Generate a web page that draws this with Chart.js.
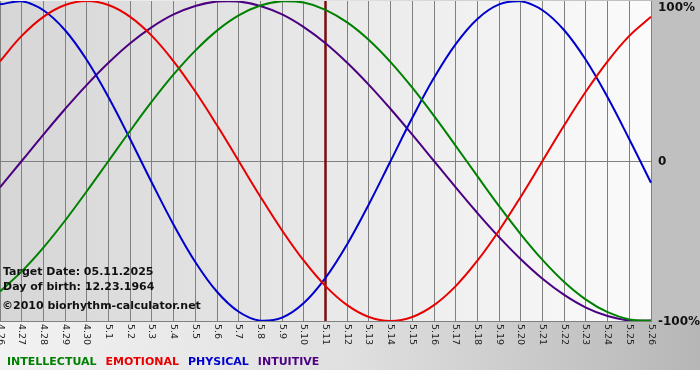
<!DOCTYPE html>
<html>
<head>
<meta charset="utf-8">
<script src="https://cdn.jsdelivr.net/npm/chart.js@4"></script>
<style>
  body { margin: 0; background: #fff; }
  #wrap { width: 700px; height: 380px; }
</style>
</head>
<body>
<div id="wrap"><canvas id="bioPlot" width="700" height="380"></canvas></div>
<script>
// Days shown on the chart
const dates = ['4.26', '4.27', '4.28', '4.29', '4.30', '5.1', '5.2', '5.3', '5.4', '5.5', '5.6', '5.7', '5.8', '5.9', '5.10',
  '5.11', '5.12', '5.13', '5.14', '5.15', '5.16', '5.17', '5.18', '5.19', '5.20', '5.21', '5.22', '5.23', '5.24', '5.25', '5.26'];

// Cycle values (-1 .. 1)
const intellectual = [-0.815, -0.690, -0.541, -0.372, -0.189, 0.000, 0.189, 0.372, 0.541, 0.690, 0.815, 0.910, 0.972, 0.999,
  0.990, 0.945, 0.866, 0.756, 0.618, 0.458, 0.282, 0.095, -0.095, -0.282, -0.458, -0.618, -0.756, -0.866, -0.945, -0.990, -0.999];
const emotional = [0.623, 0.782, 0.901, 0.975, 1.000, 0.975, 0.901, 0.782, 0.623, 0.434, 0.223, 0.000, -0.223, -0.434,
  -0.623, -0.782, -0.901, -0.975, -1.000, -0.975, -0.901, -0.782, -0.623, -0.434, -0.223, 0.000, 0.223, 0.434, 0.623, 0.782, 0.901];
const physical = [0.979, 0.998, 0.942, 0.817, 0.631, 0.398, 0.136, -0.136, -0.398, -0.631, -0.817, -0.942, -0.998, -0.979,
  -0.888, -0.731, -0.520, -0.270, 0.000, 0.270, 0.520, 0.731, 0.888, 0.979, 0.998, 0.942, 0.817, 0.631, 0.398, 0.136, -0.136];
const intuitive = [-0.165, 0.000, 0.165, 0.325, 0.476, 0.614, 0.736, 0.837, 0.916, 0.969, 0.997, 0.997, 0.969, 0.916,
  0.837, 0.736, 0.614, 0.476, 0.325, 0.165, 0.000, -0.165, -0.325, -0.476, -0.614, -0.736, -0.837, -0.916, -0.969, -0.997, -0.997];

const seriesNames = ['INTELLECTUAL', 'EMOTIONAL', 'PHYSICAL', 'INTUITIVE'];
const seriesColors = ['#008000', '#e80000', '#0000cc', '#4b0082'];

const yTicks = [1, 0, -1];
const yTickLabels = ['100%', '0', '-100%'];

const targetDay = '5.11';
const infoLines = ['Target Date: 05.11.2025', 'Day of birth: 12.23.1964', '\u00a92010 biorhythm-calculator.net'];

const bioPlugin = {
    id: 'bio',
    beforeDraw(chart) {
        const { ctx, chartArea: a, width } = chart;
        ctx.save();
        // frame
        let g = ctx.createLinearGradient(0, 0, width, 0);
        g.addColorStop(0, '#f2f2f2');
        g.addColorStop(0.5, '#e0e0e0');
        g.addColorStop(1, '#b6b6b6');
        ctx.fillStyle = g;
        ctx.fillRect(0, 0, width, 370);
        ctx.fillStyle = '#c0c0c0';
        ctx.fillRect(a.right, 0, width - a.right, a.bottom);
        // plot area
        let g2 = ctx.createLinearGradient(a.left, 0, a.right, 0);
        g2.addColorStop(0, '#d6d6d6');
        g2.addColorStop(1, '#fbfbfb');
        ctx.fillStyle = g2;
        ctx.fillRect(a.left, a.top, a.right - a.left, a.bottom - a.top);
        ctx.restore();
    },
    beforeDatasetsDraw(chart) {
        const { ctx, chartArea: a } = chart;
        const x = chart.scales.x.getPixelForValue(dates.indexOf(targetDay));
        ctx.save();
        ctx.strokeStyle = '#7a0c0c';
        ctx.lineWidth = 2.5;
        ctx.beginPath();
        ctx.moveTo(x, a.top);
        ctx.lineTo(x, a.bottom);
        ctx.stroke();
        ctx.restore();
    },
    afterDraw(chart) {
        const { ctx, chartArea: a } = chart;
        const xs = chart.scales.x, ys = chart.scales.y;
        ctx.save();
        // date labels, rotated clockwise
        ctx.fillStyle = '#222';
        ctx.font = '9.5px "DejaVu Sans"';
        ctx.textAlign = 'left';
        ctx.textBaseline = 'middle';
        dates.forEach((d, i) => {
            ctx.save();
            ctx.translate(xs.getPixelForValue(i), a.bottom + 3);
            ctx.rotate(Math.PI / 2);
            ctx.fillText(d, 0, 0);
            ctx.restore();
        });
        // percent labels on the right
        ctx.fillStyle = '#111';
        ctx.font = 'bold 12px "DejaVu Sans"';
        yTicks.forEach((v, i) => {
            ctx.textBaseline = v === 1 ? 'top' : 'middle';
            ctx.fillText(yTickLabels[i], a.right + 7, ys.getPixelForValue(v) + 1);
        });
        // info text
        ctx.font = 'bold 11px "DejaVu Sans"';
        ctx.textBaseline = 'middle';
        ctx.fillStyle = '#111';
        ctx.fillText(infoLines[0], 3, 272);
        ctx.fillText(infoLines[1], 3, 287);
        ctx.fillText(infoLines[2], 2, 306);
        // legend
        let lx = 7;
        seriesNames.forEach((n, i) => {
            ctx.fillStyle = seriesColors[i];
            ctx.fillText(n, lx, 362);
            lx += ctx.measureText(n).width + 9;
        });
        ctx.restore();
    }
};

new Chart(document.getElementById('bioPlot'), {
    type: 'line',
    data: {
        labels: dates,
        datasets: [intellectual, emotional, physical, intuitive].map((vals, i) => ({
            label: seriesNames[i],
            data: vals,
            borderColor: seriesColors[i],
            borderWidth: 2,
            pointRadius: 0,
            tension: 0.4,
            fill: false
        }))
    },
    options: {
        responsive: false,
        animation: false,
        layout: { padding: { top: 1, left: 0, right: 0, bottom: 0 } },
        plugins: {
            legend: { display: false },
            tooltip: { enabled: false }
        },
        scales: {
            x: {
                offset: false,
                ticks: { display: false },
                grid: { color: '#808080', lineWidth: 1, drawTicks: false },
                border: { display: true, color: '#808080' },
                afterFit: s => { s.height = 59; }
            },
            y: {
                position: 'right',
                min: -1,
                max: 1,
                ticks: { display: false, stepSize: 1 },
                grid: {
                    color: c => (c.tick && c.tick.value === 1) ? 'rgba(0,0,0,0)' : '#808080',
                    drawTicks: false
                },
                border: { display: false },
                afterFit: s => { s.width = 49; }
            }
        }
    },
    plugins: [bioPlugin]
});
</script>
</body>
</html>
